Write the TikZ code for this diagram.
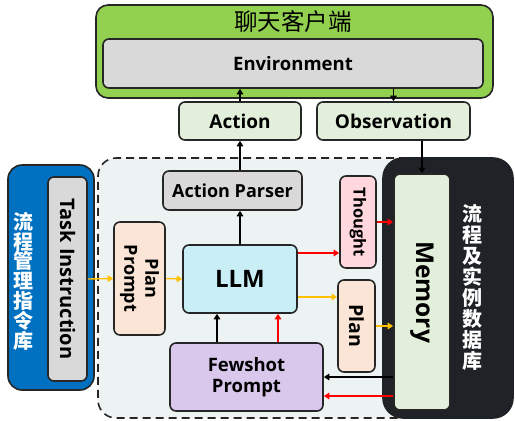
\documentclass[tikz,border=0pt]{standalone}
\usepackage{fontspec}
\setmainfont{Open Sans}
\newfontfamily\cjk{Noto Sans CJK SC}
\usetikzlibrary{calc}
\usetikzlibrary{arrows.meta}
\definecolor{edge}{HTML}{262626}
\definecolor{grass}{HTML}{92D050}
\definecolor{greyfill}{HTML}{D9D9D9}
\definecolor{mint}{HTML}{E2EFDA}
\definecolor{peach}{HTML}{FBE5D6}
\definecolor{sky}{HTML}{C9EEF5}
\definecolor{rose}{HTML}{FFD7DD}
\definecolor{lilac}{HTML}{D9C8EC}
\definecolor{ocean}{HTML}{0070C0}
\definecolor{pale}{HTML}{EDF2F2}
\definecolor{amber}{HTML}{FFC000}
\definecolor{night}{HTML}{1F2226}
\tikzset{
  box/.style= {draw=edge, line width=1.6pt, rounded corners=6pt, inner sep=0, align=center, font=\bfseries},
  vbox/.style= {box, rotate=-90},
  arr/.style= {line width=1.4pt, -{Triangle[length=5.5pt,width=6.5pt]}},
  redarr/.style= {arr, red},
  ambarr/.style= {arr, amber},
}

\begin{document}
\begin{tikzpicture}[x=1pt, y=-1pt]
  \useasboundingbox (0,0) rectangle (515,421);
  % outer containers
  \node [box, fill=grass, rounded corners=12pt, minimum width=397, minimum height=93] (client) at (294.5,51.5) {};
  \node [font=\cjk\fontsize{23.5}{24}\selectfont] (title) at (293,22) {聊天客户端};
  \node [box, fill=greyfill, minimum width=380, minimum height=49, font=\bfseries\fontsize{18.5}{18}\selectfont] (env) at (293,63.5) {Environment};
  \node [box, fill=mint, minimum width=122, minimum height=38, font=\bfseries\fontsize{19}{18}\selectfont] (action) at (240,121) {Action};
  \node [box, fill=mint, minimum width=153, minimum height=38, font=\bfseries\fontsize{19}{18}\selectfont] (obs) at (393.5,121) {Observation};
  \node [box, fill=pale, dashed, dash pattern=on 8pt off 5pt, rounded corners=18pt, minimum width=340, minimum height=260] (agent) at (268,288) {};
  \node [box, draw=night, fill=night, rounded corners=20pt, minimum width=130, minimum height=260] (db) at (448,288) {};
  \node [box, fill=ocean, rounded corners=14pt, minimum width=86, minimum height=225] (flow) at (51,277.5) {};
  % inner boxes
  \node [vbox, fill=mint, minimum width=236, minimum height=56, font=\bfseries\fontsize{24.5}{24}\selectfont] (mem) at (422,292) {Memory};
  \node [vbox, fill=greyfill, minimum width=204, minimum height=39, font=\bfseries\fontsize{20}{20}\selectfont] (task) at (67.5,279) {Task Instruction};
  \node [vbox, fill=peach, minimum width=113, minimum height=51, font=\bfseries\fontsize{18}{21}\selectfont] (pp) at (139.5,278.5) {Plan\\Prompt};
  \node [box, fill=sky, minimum width=114, minimum height=68, font=\bfseries\fontsize{24}{24}\selectfont] (llm) at (240,279) {LLM};
  \node [box, fill=greyfill, minimum width=139, minimum height=39, font=\bfseries\fontsize{18}{18}\selectfont] (parser) at (232.5,190.5) {Action Parser};
  \node [vbox, fill=rose, minimum width=92, minimum height=36, font=\bfseries\fontsize{16.5}{17}\selectfont] (thought) at (358,222) {Thought};
  \node [vbox, fill=peach, minimum width=92, minimum height=37, font=\bfseries\fontsize{19.5}{19}\selectfont] (plan) at (356.5,326) {Plan};
  \node [box, fill=lilac, minimum width=153, minimum height=68, font=\bfseries\fontsize{18.5}{21}\selectfont] (few) at (246.5,377) {Fewshot\\Prompt};
  % vertical labels
  \node [white, align=center, font=\cjk\bfseries\fontsize{20}{19.8}\selectfont] (flowlbl) at (23,281) {流\\程\\管\\理\\指\\令\\库};
  \node [white, align=center, font=\cjk\bfseries\fontsize{20}{21}\selectfont] (dblbl) at (472,287) {流\\程\\及\\实\\例\\数\\据\\库};
  % connectors
  \draw [arr] (action.north) -- (action.north |- env.south);
  \draw [arr] (env.south -| obs) -- (obs.north);
  \draw [arr] (parser.north -| action) -- (action.south);
  \draw [arr] (llm.north) -- (llm.north |- parser.south);
  \draw [arr] (obs.south -| mem) -- (mem.west);
  \draw [ambarr] (task.north) -- (pp.south);
  \draw [ambarr] (pp.north) -- (llm.west);
  \draw [redarr] ([yshift=26pt]llm.east) -- ([yshift=26pt]llm.east -| thought.south);
  \draw [ambarr] ([yshift=-18pt]llm.east) -- ([yshift=-18pt]llm.east -| plan.south);
  \draw [redarr] (thought.north) -- (thought.north -| mem.south);
  \draw [ambarr] (plan.north) -- (plan.north -| mem.south);
  \draw [arr] ([xshift=-29.5pt]few.north) -- ([xshift=-29.5pt]few.north |- llm.south);
  \draw [redarr] ([xshift=31.5pt]few.north) -- ([xshift=31.5pt]few.north |- llm.south);
  \draw [arr] (few.east -| mem.south) -- (few.east);
  \draw [redarr] ([yshift=-19pt]few.east -| mem.south) -- ([yshift=-19pt]few.east);
\end{tikzpicture}
\end{document}
